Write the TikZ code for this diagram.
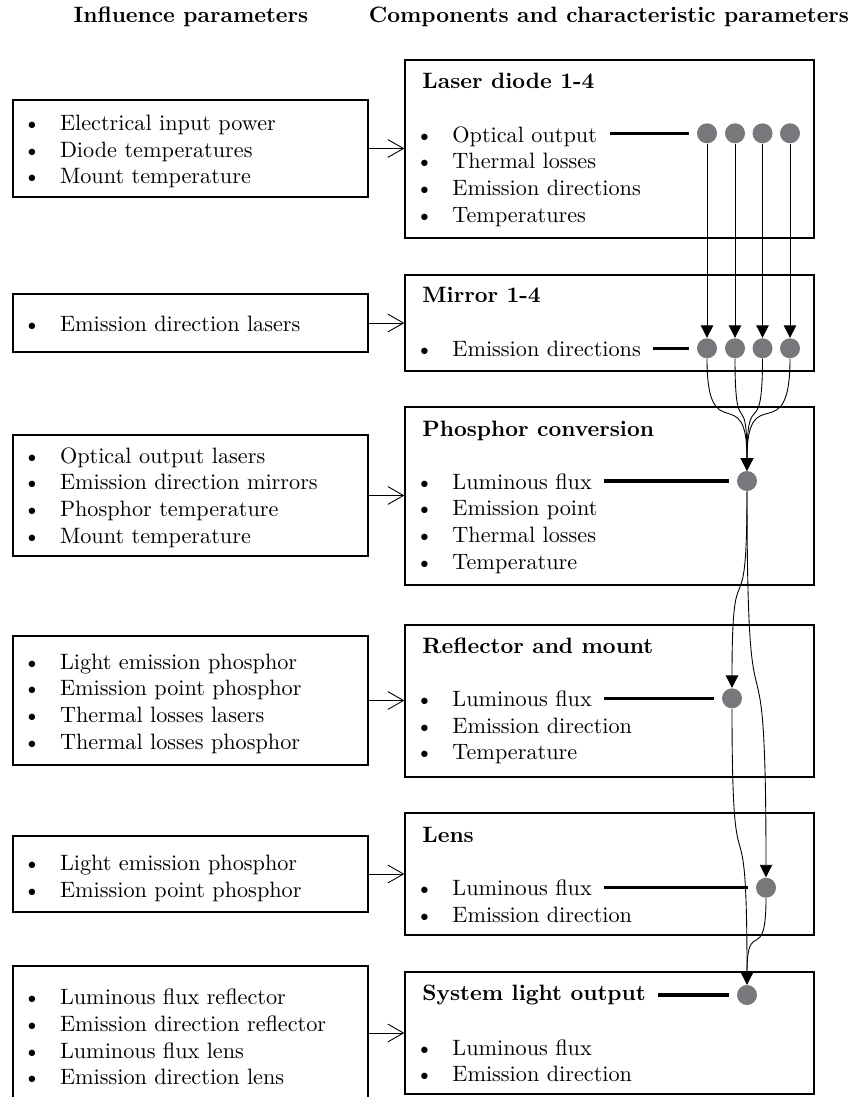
\documentclass[tikz,border=0pt]{standalone}
\usetikzlibrary{arrows.meta,fit}

\definecolor{dotgray}{RGB}{118,120,123}
\newcommand{\bul}{\makebox[5pt][c]{\textbullet}\hspace{10.1pt}}
\newcommand{\plist}[1]{\begin{tabular}[t]{@{}l@{}}#1\end{tabular}}

\begin{document}
\begin{tikzpicture}[x=0.45pt,y=-0.45pt,
  box/.style={draw,semithick,inner sep=0pt},
  txt/.style={inner sep=0pt,anchor=base west},
  ttl/.style={txt,font=\bfseries},
  head/.style={inner sep=0pt,anchor=base,font=\bfseries},
  pdot/.style={circle,fill=dotgray,inner sep=0pt,minimum size=9pt},
  flux/.style={line width=1.4pt,shorten <=5.5pt,shorten >=3.6pt},
  flow/.style={-{Triangle[width=5.6pt,length=5.6pt]}},
  inarrow/.style={-{Straight Barb[width=8pt,length=7pt]}}]
\useasboundingbox (0,0) rectangle (857,1097);
\clip (0,0) rectangle (857,1097);

\node[head] (hinf) at (191,23) {Influence parameters};
\node[head] (hcomp) at (609,23) {Components and characteristic parameters};

\node[box,fit={(13,100) (368,197)}] (inf1) {};
\node[box,fit={(13,294) (368,352)}] (inf2) {};
\node[box,fit={(13,435) (368,556)}] (inf3) {};
\node[box,fit={(13,636) (368,765)}] (inf4) {};
\node[box,fit={(13,836) (368,912)}] (inf5) {};
\node[box,fit={(13,966) (368,1100)}] (inf6) {};

\node[txt] (inf1t) at (26,130.5) {\plist{\bul Electrical input power\\ \bul Diode temperatures\\ \bul Mount temperature}};
\node[txt] (inf2t) at (26,331.5) {\plist{\bul Emission direction lasers}};
\node[txt] (inf3t) at (26,463.3) {\plist{\bul Optical output lasers\\ \bul Emission direction mirrors\\ \bul Phosphor temperature\\ \bul Mount temperature}};
\node[txt] (inf4t) at (26,669) {\plist{\bul Light emission phosphor\\ \bul Emission point phosphor\\ \bul Thermal losses lasers\\ \bul Thermal losses phosphor}};
\node[txt] (inf5t) at (26,870.7) {\plist{\bul Light emission phosphor\\ \bul Emission point phosphor}};
\node[txt] (inf6t) at (26,1004.7) {\plist{\bul Luminous flux reflector\\ \bul Emission direction reflector\\ \bul Luminous flux lens\\ \bul Emission direction lens}};

\node[box,fit={(405,60) (814,238)}] (laser) {};
\node[box,fit={(405,275) (814,371)}] (mirror) {};
\node[box,fit={(405,407) (814,585)}] (phos) {};
\node[box,fit={(405,625) (814,777)}] (refl) {};
\node[box,fit={(405,813) (814,935)}] (lens) {};
\node[box,fit={(405,972) (814,1094)}] (sys) {};

\node[ttl] (lasert) at (422,89) {Laser diode 1-4};
\node[ttl] (mirrort) at (422,303) {Mirror 1-4};
\node[ttl] (phost) at (422,436) {Phosphor conversion};
\node[ttl] (reflt) at (422,653) {Reflector and mount};
\node[ttl] (lenst) at (422,842.3) {Lens};
\node[ttl] (syst) at (422,1000.7) {System light output};

\node[txt] (laserout) at (418.4,142.3) {\plist{\bul Optical output}};
\node[txt] (laserrest) at (418.4,169) {\plist{\bul Thermal losses\\ \bul Emission directions\\ \bul Temperatures}};
\node[txt] (mirrorout) at (418.4,356.7) {\plist{\bul Emission directions}};
\node[txt] (phosout) at (418.4,489) {\plist{\bul Luminous flux}};
\node[txt] (phosrest) at (418.4,515.7) {\plist{\bul Emission point\\ \bul Thermal losses\\ \bul Temperature}};
\node[txt] (reflout) at (418.4,706.7) {\plist{\bul Luminous flux}};
\node[txt] (reflrest) at (418.4,733) {\plist{\bul Emission direction\\ \bul Temperature}};
\node[txt] (lensout) at (418.4,895.7) {\plist{\bul Luminous flux}};
\node[txt] (lensrest) at (418.4,922.3) {\plist{\bul Emission direction}};
\node[txt] (sysrest) at (418.4,1055) {\plist{\bul Luminous flux\\ \bul Emission direction}};

\foreach \i/\x in {1/707,2/735,3/762.5,4/790} {
  \node[pdot] (ld\i) at (\x,133.3) {};
  \node[pdot] (mi\i) at (\x,348.3) {};
}
\node[pdot] (ph) at (747,481) {};
\node[pdot] (re) at (732,698.3) {};
\node[pdot] (le) at (766,887.7) {};
\node[pdot] (so) at (747,995) {};

\draw[flux] (laserout.east |- ld1) -- (ld1);
\draw[flux] (mirrorout.east |- mi1) -- (mi1);
\draw[flux] (phosout.east |- ph) -- (ph);
\draw[flux] (reflout.east |- re) -- (re);
\draw[flux] (lensout.east |- le) -- (le);
\draw[flux] (syst.east |- so) -- (so);

\foreach \i in {1,...,4} {
  \draw[flow] (ld\i) -- (mi\i);
  \draw[flow] (mi\i) to[out=-90,in=90,looseness=2] (ph);
}
\draw[flow] (ph) to[out=-90,in=90,looseness=2] (re);
\draw[flow] (ph) to[out=-90,in=90,looseness=2] (le);
\draw[flow] (re) to[out=-90,in=90,looseness=2] (so);
\draw[flow] (le) to[out=-90,in=90,looseness=2] (so);

\foreach \a/\b in {inf1/laser,inf2/mirror,inf3/phos,inf4/refl,inf5/lens,inf6/sys}
  \draw[inarrow] (\a.east) -- (\a.east -| \b.west);
\end{tikzpicture}
\end{document}
